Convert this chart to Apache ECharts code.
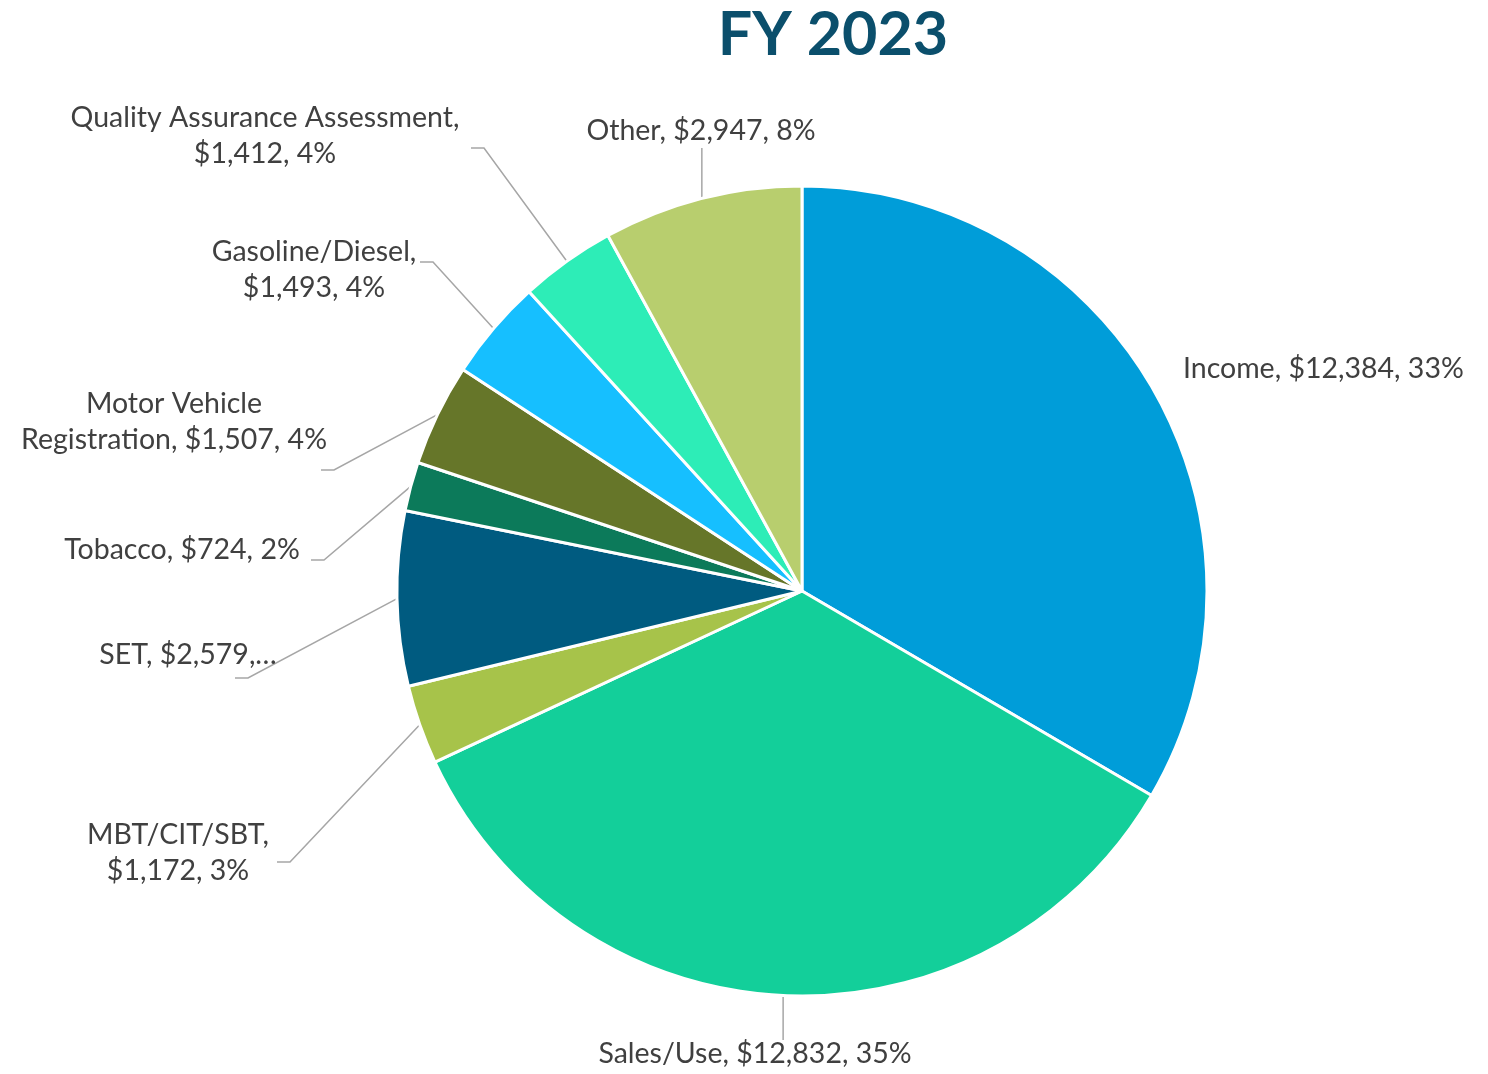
<!DOCTYPE html>
<html>
<head>
<meta charset="utf-8">
<script src="https://cdn.jsdelivr.net/npm/echarts@6/dist/echarts.min.js"></script>
<style>
  html, body { margin: 0; padding: 0; background: #fff; }
  #main { width: 1488px; height: 1074px; }
</style>
</head>
<body>
<div id="main"></div>
<script>
var categories = ['Income', 'Sales/Use', 'MBT/CIT/SBT', 'SET', 'Tobacco',
  'Motor Vehicle Registration', 'Gasoline/Diesel', 'Quality Assurance Assessment', 'Other'];
var amounts = [12384, 12832, 1172, 2579, 724, 1507, 1493, 1412, 2947];
var colors = ['#009DD9', '#13CF9A', '#A7C34A', '#005B80', '#0C7A5A',
  '#667629', '#16BFFF', '#2DEDB7', '#B8CE6E'];

// where Excel put each label: text x, text y, align, leader end x, leader end y
// (null end = no leader line; 'v' = straight vertical leader)
var labelSpots = [
  [1183, 369, 'left', null, null],
  [755, 1054, 'center', 'v', 1040],
  [178, 853, 'center', 277, 862],
  [188, 655, 'center', 235, 678],
  [182, 550, 'center', 311, 560],
  [174, 422, 'center', 321, 470],
  [314, 270, 'center', 420, 262],
  [265, 136, 'center', 471, 148],
  [701, 131, 'center', 'v', 148]
];

var total = amounts.reduce(function (a, b) { return a + b; }, 0);

function money(v) {
  return '$' + v.toLocaleString('en-US');
}

// label text as Excel wrapped it
function labelText(i) {
  var pct = Math.round(amounts[i] / total * 100) + '%';
  var name = categories[i];
  if (name === 'SET') return 'SET, ' + money(amounts[i]) + ',…';
  if (name === 'Motor Vehicle Registration') return 'Motor Vehicle\nRegistration, ' + money(amounts[i]) + ', ' + pct;
  if (name === 'Income' || name === 'Sales/Use' || name === 'Tobacco' || name === 'Other') {
    return name + ', ' + money(amounts[i]) + ', ' + pct;
  }
  return name + ',\n' + money(amounts[i]) + ', ' + pct;
}

var pieData = [];
for (var i = 0; i < categories.length; i++) {
  var item = { name: categories[i], value: amounts[i], itemStyle: { color: colors[i] } };
  if (labelSpots[i][3] === null) item.labelLine = { show: false };
  pieData.push(item);
}

var chart = echarts.init(document.getElementById('main'));
var option = {
  animation: false,
  title: {
    text: 'FY 2023',
    left: 828,
    textAlign: 'center',
    top: 0,
    textStyle: { fontFamily: 'Lato', fontWeight: 'bold', fontSize: 61, color: '#0B4F6C' }
  },
  series: [{
    type: 'pie',
    center: [802, 591],
    radius: 405,
    startAngle: 90,
    clockwise: true,
    itemStyle: { borderColor: '#fff', borderWidth: 3 },
    label: {
      show: true,
      position: 'outside',
      overflow: 'none',
      fontFamily: 'Lato',
      fontSize: 28.5,
      lineHeight: 36,
      color: '#404040',
      formatter: function (p) { return labelText(p.dataIndex); }
    },
    labelLine: {
      show: true,
      length: 30,
      length2: 20,
      lineStyle: { color: '#A6A6A6', width: 1.5 }
    },
    labelLayout: function (params) {
      var s = labelSpots[params.dataIndex];
      var out = { x: s[0], y: s[1], align: s[2], verticalAlign: 'middle' };
      var pts = params.labelLinePoints;
      if (pts && s[3] !== null) {
        var p0 = pts[0];
        if (s[3] === 'v') {
          out.labelLinePoints = [p0, [p0[0], s[4]], [p0[0], s[4]]];
        } else {
          out.labelLinePoints = [p0, [s[3] + 13, s[4]], [s[3], s[4]]];
        }
      }
      return out;
    },
    data: pieData
  }]
};
chart.setOption(option);
</script>
</body>
</html>
